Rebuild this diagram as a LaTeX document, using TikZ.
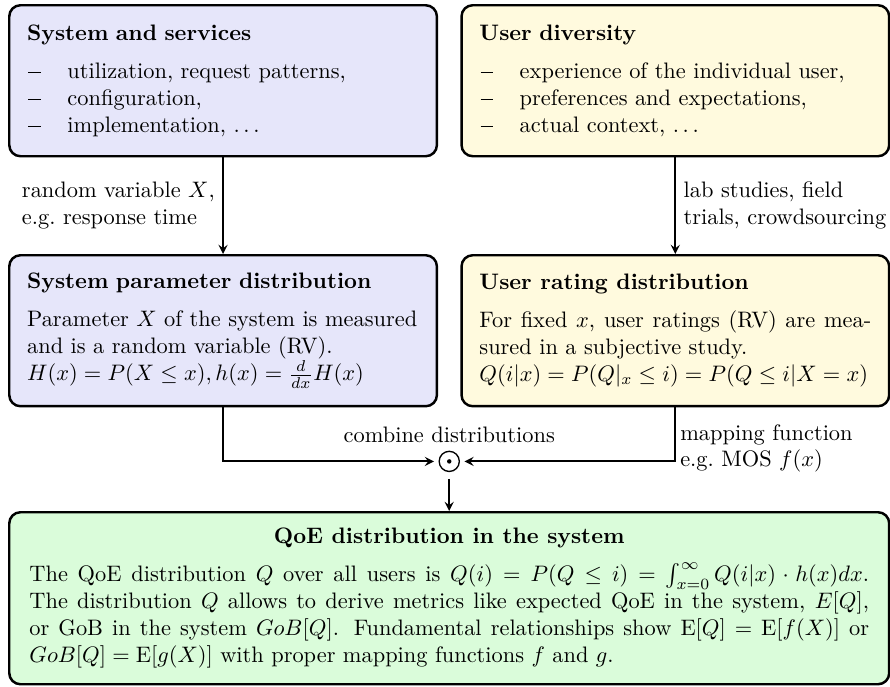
\documentclass[tikz,border=0pt]{standalone}
\usepackage{amsmath,amssymb}
\usepackage{xcolor}
\usetikzlibrary{arrows,positioning,calc}

\definecolor{sysblue}{RGB}{230,230,250}
\definecolor{useryellow}{RGB}{255,250,222}
\definecolor{qoegreen}{RGB}{218,252,218}

% dash in front of the list lines
\newcommand{\dashitem}{\makebox[18pt][l]{\hspace{0.5pt}\rule[2.4pt]{5.5pt}{0.6pt}}}

\begin{document}
\begin{tikzpicture}[>=stealth]
    \tikzset{
      box/.style={draw, line width=1.1pt, rounded corners=5pt, anchor=north west,
        text width=175pt, inner xsep=8pt, minimum height=2.37cm, align=left},
      wide/.style={box, text width=375pt, inner xsep=9pt, minimum height=2.70cm, align=justify},
      conn/.style={->, line width=0.8pt},
      lab/.style={align=left},
      op/.style={draw, circle, line width=0.6pt, inner sep=0pt, minimum size=9pt},
    }
    \useasboundingbox (0,0) rectangle (13.97,-10.77);

    % top row
    \node[box, fill=sysblue] (sys) at (0.126,-0.063) {\textbf{System and services}\\[5pt]
      \dashitem utilization, request patterns,\\
      \dashitem configuration,\\
      \dashitem implementation, $\ldots$};
    \node[box, fill=useryellow] (div) at (7.225,-0.063) {\textbf{User diversity}\\[5pt]
      \dashitem experience of the individual user,\\
      \dashitem preferences and expectations,\\
      \dashitem actual context, $\ldots$};

    % middle row
    \node[box, fill=sysblue] (par) at (0.126,-3.987) {\textbf{System parameter distribution}\\[5pt]
      Parameter $X$ of the system is measured\\
      and is a random variable (RV).\\
      \mbox{$H(x)=P(X\leq x), h(x)=\frac{d}{dx}H(x)$}};
    \node[box, fill=useryellow, align=justify] (rat) at (7.225,-3.987) {\textbf{User rating distribution}\\[5pt]
      For fixed $x$, user ratings (RV) are mea-\linebreak sured in a subjective study.\\
      \mbox{$Q(i|x)=P(Q|_x\leq i)=P(Q\leq i|X=x)$}};

    % bottom box
    \node[wide, fill=qoegreen] (qoe) at (0.126,-8.021) {\hspace*{\fill}\textbf{QoE distribution in the system}\hspace*{\fill}\\[5pt]
      The QoE distribution $Q$ over all users is $Q(i)=P(Q\leq i)=\int_{x=0}^{\infty}Q(i|x)\cdot h(x)dx$.\linebreak
      The distribution $Q$ allows to derive metrics like expected QoE in the system, $E[Q]$,\linebreak
      or GoB in the system $GoB[Q]$. Fundamental relationships show $\mathrm{E}[Q]=\mathrm{E}[f(X)]$ or\linebreak
      $GoB[Q]=\mathrm{E}[g(X)]$ with proper mapping functions $f$ and $g$.};

    % combining operator
    \node[op, above=0.61cm of qoe] (comb) {};
    \fill (comb) circle (1pt);
    \node[above=0pt of comb] (lblcomb) {combine distributions};

    \draw[conn] (sys) -- node[left, lab] (lblx) {random variable $X$,\\ e.g.\ response time} (par);
    \draw[conn] (div) -- node[right, lab] (lblstud) {lab studies, field\\ trials, crowdsourcing} (rat);
    \draw[conn, shorten >=2pt] (par.south) |- (comb.west);
    \draw[conn, shorten >=2pt] (rat.south) |- (comb.east);
    \draw[conn, shorten <=3pt] (comb) -- (qoe);
    \node[anchor=north west, lab, inner xsep=2pt] (lblmap) at ([yshift=-4pt]rat.south) {mapping function\\ e.g.\ MOS $f(x)$};
  \end{tikzpicture}
\end{document}
